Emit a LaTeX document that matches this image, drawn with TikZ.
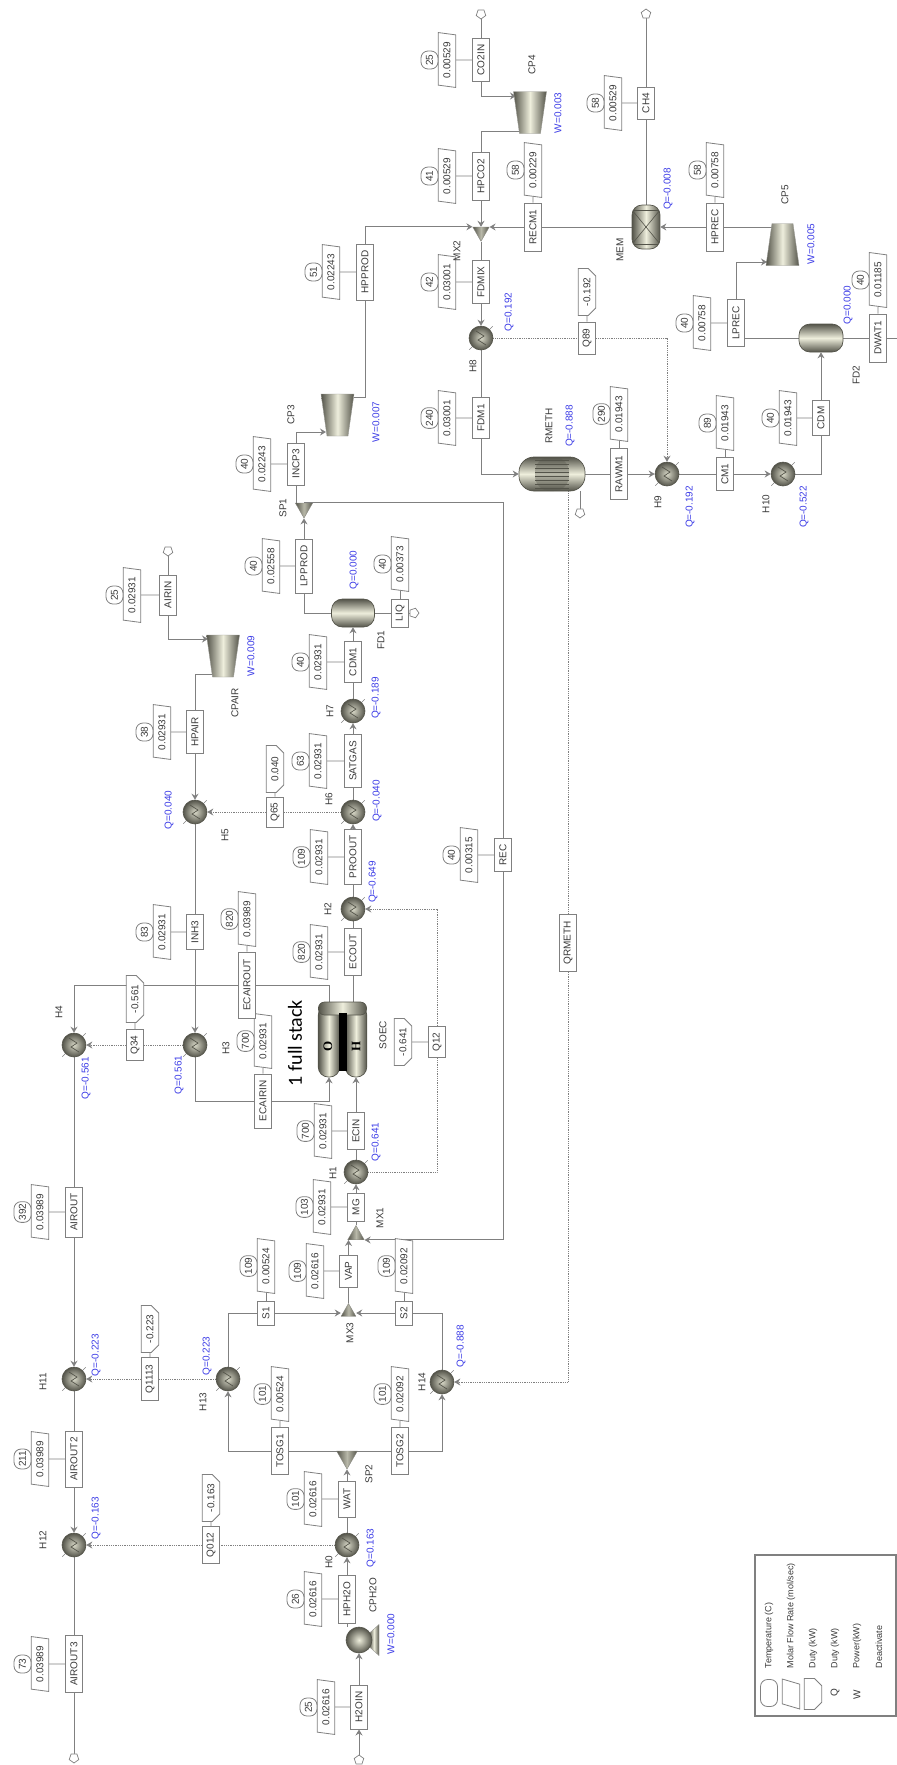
\documentclass[tikz,border=0pt]{standalone}
\usepackage{fontspec}
\setmainfont{Liberation Sans}
\newfontfamily\stackfont{Carlito}
\newfontfamily\bodyfont{Liberation Serif}
\usetikzlibrary{arrows.meta,shapes.geometric,shapes.misc,backgrounds}
\definecolor{eqdark}{HTML}{54544A}
\definecolor{eqlight}{HTML}{EEEEDC}
\definecolor{linegray}{HTML}{808080}
\definecolor{textgray}{HTML}{3A3A3A}
\definecolor{dutyblue}{HTML}{3C3CE6}
\begin{document}
\begin{tikzpicture}[
    x=1pt, y=-1pt,
    >={Stealth[inset=2pt,length=6pt,width=7pt]},
    every node/.style={text=textgray, font=\fontsize{10}{12}\selectfont},
    stbox/.style={rectangle, rotate=90, draw=linegray, line width=0.9pt, fill=white, minimum height=17.5pt, inner sep=0pt},
    flowtag/.style={trapezium, trapezium left angle=78, trapezium right angle=102, trapezium stretches=true, rotate=90, draw=linegray, line width=0.8pt, fill=white, minimum width=55pt, minimum height=17.5pt, inner sep=0.5pt},
    tempoval/.style={rectangle, rounded corners=7pt, rotate=90, draw=linegray, line width=0.8pt, fill=white, minimum width=18pt, minimum height=17pt, inner xsep=2pt, inner ysep=0pt},
    dutytag/.style={chamfered rectangle, chamfered rectangle corners={south east,south west}, chamfered rectangle xsep=4pt, rotate=90, draw=linegray, line width=0.8pt, fill=white, minimum width=47pt, minimum height=17.5pt, inner sep=0.5pt},
    heater/.style={circle, draw=eqdark, line width=0.6pt, minimum size=24pt, inner sep=0pt, inner color=eqlight!85!eqdark, outer color=eqdark,
      path picture={\draw[eqdark, line width=0.7pt] ([shift={(-5,-7)}]path picture bounding box.center) -- ([shift={(3,-2)}]path picture bounding box.center) -- ([shift={(-3,2)}]path picture bounding box.center) -- ([shift={(5,7)}]path picture bounding box.center);}},
    tickline/.style={draw=linegray, line width=0.5pt},
    vessel/.style={rectangle, draw=eqdark, line width=0.7pt, left color=eqdark, right color=eqdark, middle color=eqlight, inner sep=0pt},
    hvessel/.style={rectangle, draw=eqdark, line width=0.7pt, top color=eqdark, bottom color=eqdark, middle color=eqlight, inner sep=0pt},
    comp/.style={trapezium, trapezium left angle=74, trapezium right angle=74, trapezium stretches=true, draw=eqdark!60, line width=0.4pt, left color=eqdark, right color=eqdark, middle color=eqlight, minimum width=33pt, minimum height=42pt, inner sep=0.5pt},
    mixer/.style={regular polygon, regular polygon sides=3, draw=eqdark!70, line width=0.4pt, left color=eqdark, right color=eqdark, middle color=eqlight!65!eqdark, inner sep=0pt},
    splitter/.style={mixer, shape border rotate=180},
    strmend/.style={regular polygon, regular polygon sides=5, draw=linegray, line width=0.7pt, fill=white, minimum size=10pt, inner sep=0pt},
    unitlab/.style={rotate=90},
    qlab/.style={rotate=90, text=dutyblue},
    legendtext/.style={rotate=90, anchor=west, font=\fontsize{9}{11}\selectfont},
    strm/.style={draw=linegray, line width=1pt},
    tagline/.style={draw=linegray, line width=0.8pt},
    heatline/.style={draw=linegray, line width=0.8pt, densely dotted}
  ]
  \useasboundingbox (0,0) rectangle (897,1765);

  \foreach \sn/\bx/\by/\bh/\fx/\fy/\fv/\tv in {
      AIROUT3/74/1664/57/40/1664/0.03989/73, AIROUT2/74/1459/56/40/1459/0.03989/211,
      AIROUT/74/1212/50/40/1212/0.03989/392, S1/266/1313/24/266/1266/0.00524/109,
      VAP/348.5/1271/32/315/1271/0.02616/109, S2/404/1313/24/404/1266/0.02092/109,
      TOSG1/280/1451/47/280/1394/0.00524/101, TOSG2/400/1451/47/400/1394/0.02092/101,
      WAT/347/1499/36/313/1499/0.02616/101, HPH2O/347/1599/48/313/1599/0.02616/26,
      H2OIN/359/1707/44/326/1707/0.02616/25, MG/356/1207/28/322/1207/0.02931/103,
      ECIN/356/1131/37/323/1131/0.02931/700, ECAIRIN/263/1101/54/263/1041/0.02931/700,
      ECAIROUT/247/985/66/247/919/0.03989/820, ECOUT/353/952/47/319/952/0.02931/820,
      PROOUT/353/857/55/319/857/0.02931/109, SATGAS/353/761/53/318/761/0.02931/63,
      CDM1/353/662/41/318/662/0.02931/40, LIQ/400/613/28/400/564/0.00373/40,
      LPPROD/304/566/54/271/566/0.02558/40, INCP3/296/464/42/262/464/0.02243/40,
      HPPROD/365/272/56/331/272/0.02243/51, HPAIR/195/732/43/162/732/0.02931/38,
      INH3/195/932/35/162/932/0.02931/83, AIRIN/168/595/40/132/595/0.02931/25,
      REC/503/855/33/469/855/0.00315/40, CO2IN/481/60/43/447/60/0.00529/25,
      HPCO2/481/176/48/447/176/0.00529/41, FDMIX/481/282/43/447/282/0.03001/42,
      FDM1/481/418/41/447/418/0.03001/240, RAWM1/619/474/51/619/414/0.01943/290,
      CM1/725/474/33/725/423/0.01943/89, CDM/821/418/35/788/418/0.01943/40,
      RECM1/533/227/48/533/170/0.00229/58, HPREC/715/227/48/715/170/0.00758/58,
      CH4/646/103/32/613/103/0.00529/58, LPREC/736/323/47/702/323/0.00758/40,
      DWAT1/878/338/48/878/280/0.01185/40} {
    \node[stbox, minimum width=\bh] (\sn) at (\bx,\by) {\sn};
    \node[flowtag] (f\sn) at (\fx,\fy) {\fv};
    \node[tempoval] (t\sn) at ([xshift=-17.5pt]f\sn) {\tv};
    \begin{pgfonlayer}{background}
      \draw[tagline] (f\sn) -- (\sn);
    \end{pgfonlayer}
  }

  \foreach \dn/\bx/\by/\bh/\dx/\dy/\dv in {
      Q012/211/1545/37/211/1498/-0.163, Q1113/150/1379/43/150/1329/-0.223,
      Q34/135/1045/31/135/999/-0.561, Q65/275/812/30/275/769/0.040,
      Q12/437/1042/31/403/1042/-0.641, Q89/587/338/32/587/292/-0.192} {
    \node[stbox, minimum width=\bh] (\dn) at (\bx,\by) {\dn};
    \node[dutytag] (d\dn) at (\dx,\dy) {\dv};
    \begin{pgfonlayer}{background}
      \draw[tagline] (d\dn) -- (\dn);
    \end{pgfonlayer}
  }
  \node[stbox, minimum width=57pt] (QRMETH) at (568,943) {QRMETH};

  \foreach \hn/\hx/\hy/\lx/\ly/\qv/\qx/\qy in {
      H12/74/1545/43/1540/-0.163/96/1518, H11/74/1379/43/1382/-0.223/96/1355,
      H13/228/1379/203/1402/0.223/207/1356, H14/442/1382/422/1382/-0.888/461/1346,
      H0/347/1545/329/1562/0.163/371/1548, H4/74/1045/59/1012/-0.561/86/1078,
      H3/195/1045/226/1048/0.561/179/1075, H5/195/812/225/835/0.040/169/810,
      H6/353/812/329/799/-0.040/377/801, H2/353/909/328/909/-0.649/373/882,
      H1/356/1172/333/1173/0.641/376/1142, H7/353/711/330/711/-0.189/376/698,
      H8/481/338/473/366/0.192/509/312, H9/667/474/658/502/-0.192/690/507,
      H10/783/474/766/504/-0.522/804/507} {
    \node[heater] (\hn) at (\hx,\hy) {};
    \draw[tickline] (\hn.45) -- ++(3,-3);
    \draw[tickline] (\hn.225) -- ++(-3,3);
    \node[unitlab] (l\hn) at (\lx,\ly) {\hn};
    \node[qlab] (q\hn) at (\qx,\qy) {Q=\qv};
  }

  \node[mixer, minimum size=19pt] (MX1) at (356,1235) {};
  \node[mixer, minimum size=17pt] (MX3) at (348.5,1312) {};
  \node[splitter, minimum size=24pt] (SP2) at (347,1457) {};
  \node[splitter, minimum size=20pt] (SP1) at (304,508) {};
  \node[splitter, minimum size=19pt] (MX2) at (481,231.75) {};
  \node[unitlab] (lMX1) at (380,1218) {MX1};
  \node[unitlab] (lMX3) at (350,1333) {MX3};
  \node[unitlab] (lSP2) at (369,1474) {SP2};
  \node[unitlab] (lSP1) at (283,508) {SP1};
  \node[unitlab] (lMX2) at (457,251) {MX2};

  \node[comp, rotate=180] (CP3) at (337.5,415) {};
  \node[comp, rotate=180] (CPAIR) at (223,656) {};
  \node[comp, rotate=180] (CP4) at (530,112.5) {};
  \node[comp] (CP5) at (782.5,244.5) {};
  \coordinate (CP3in) at (326,432);
  \coordinate (CP3out) at (354,397);
  \coordinate (CPAIRin) at (208,639);
  \coordinate (CPAIRout) at (213,674);
  \coordinate (CP4in) at (516,96);
  \coordinate (CP4out) at (522,131);
  \coordinate (CP5in) at (767,262);
  \coordinate (CP5out) at (774,227);
  \coordinate (DWATend) at (897,338);
  \node[unitlab] (lCP3) at (291,415) {CP3};
  \node[qlab] (qCP3) at (376,422) {W=0.007};
  \node[unitlab] (lCPAIR) at (235,703) {CPAIR};
  \node[qlab] (qCPAIR) at (251,656) {W=0.009};
  \node[unitlab] (lCP4) at (532,65) {CP4};
  \node[qlab] (qCP4) at (558,113) {W=0.003};
  \node[unitlab] (lCP5) at (785,195) {CP5};
  \node[qlab] (qCP5) at (811,244) {W=0.005};

  \node[comp, trapezium left angle=55, trapezium right angle=55, minimum width=31pt, minimum height=10pt, rotate=90] (CPH2Ocone) at (374,1640) {};
  \node[circle, draw=eqdark, line width=0.6pt, minimum size=26pt, inner sep=0pt, inner color=eqlight, outer color=eqdark] (CPH2O) at (359,1640) {};
  \node[unitlab] (lCPH2O) at (373,1595) {CPH2O};
  \node[qlab] (qCPH2O) at (391,1634) {W=0.000};

  \node[hvessel, rounded corners=11pt, minimum width=43pt, minimum height=28pt] (FD1) at (353,613) {};
  \node[hvessel, rounded corners=11pt, minimum width=44pt, minimum height=28pt] (FD2) at (821,338) {};
  \node[unitlab] (lFD1) at (381,640) {FD1};
  \node[qlab] (qFD1) at (354,570) {Q=0.000};
  \node[unitlab] (lFD2) at (856,375) {FD2};
  \node[qlab] (qFD2) at (848,305) {Q=0.000};

  \node[vessel, rounded corners=10pt, minimum width=28pt, minimum height=44pt,
    path picture={
      \draw[eqdark, line width=0.6pt] ([shift={(-14,-17)}]path picture bounding box.center) -- ([shift={(14,-17)}]path picture bounding box.center);
      \draw[eqdark, line width=0.6pt] ([shift={(-14,17)}]path picture bounding box.center) -- ([shift={(14,17)}]path picture bounding box.center);
      \draw[eqdark, line width=0.6pt] ([shift={(-14,-17)}]path picture bounding box.center) -- ([shift={(14,17)}]path picture bounding box.center);
      \draw[eqdark, line width=0.6pt] ([shift={(14,-17)}]path picture bounding box.center) -- ([shift={(-14,17)}]path picture bounding box.center);
    }] (MEM) at (646,227) {};
  \node[unitlab] (lMEM) at (620,250) {MEM};
  \node[qlab] (qMEM) at (668,189) {Q=-0.008};

  \node[hvessel, rounded corners=15pt, minimum width=66pt, minimum height=34pt,
    path picture={
      \fill[eqdark, opacity=0.35] ([shift={(-17,-17)}]path picture bounding box.center) rectangle ([shift={(17,17)}]path picture bounding box.center);
      \foreach \ly in {-14,-10,-6,-2,2,6,10,14} {
        \draw[eqdark, line width=0.4pt] ([shift={(-17,\ly)}]path picture bounding box.center) -- ([shift={(17,\ly)}]path picture bounding box.center);
      }
    }] (RMETH) at (552,474) {};
  \node[unitlab] (lRMETH) at (549,426) {RMETH};
  \node[qlab] (qRMETH) at (570,426) {Q=-0.888};

  \node[vessel, rounded corners=10pt, minimum width=21.5pt, minimum height=72pt] (SOECO) at (329,1041) {};
  \node[vessel, rounded corners=10pt, minimum width=21.5pt, minimum height=72pt] (SOECH) at (356,1041) {};
  \node[vessel, rounded corners=6pt, minimum width=48pt, minimum height=13pt] (SOEC) at (342.5,1008.5) {};
  \node[rectangle, fill=black, minimum width=8pt, minimum height=58pt, inner sep=0pt] (SOECgap) at (342.5,1042) {};
  \node[rotate=90, font=\bodyfont\bfseries\fontsize{13}{14}\selectfont, text=black] (labO) at (328,1046) {O};
  \node[rotate=90, font=\bodyfont\bfseries\fontsize{13}{14}\selectfont, text=black] (labH) at (356,1046) {H};
  \node[unitlab] (lSOEC) at (383,1035) {SOEC};
  \node[rotate=90, font=\stackfont\fontsize{20}{22}\selectfont, text=black] (stacktext) at (295,1043) {1 full stack};

  \node[strmend, rotate=180] (endAIROUT) at (74,1758) {};
  \node[strmend] (endH2OIN) at (359,1760) {};
  \node[strmend, rotate=180] (endAIRIN) at (168,551) {};
  \node[strmend, rotate=-90] (endLIQ) at (414,613) {};
  \node[strmend, rotate=180] (endCO2IN) at (481,14) {};
  \node[strmend] (endCH4) at (646,14) {};
  \node[strmend, rotate=180] (endRMETH) at (580,513) {};

  \begin{scope}[on background layer]
    \draw[strm,->] (endH2OIN) -- (H2OIN);
    \draw[strm,->] (H2OIN) -- (CPH2O);
    \draw[strm] (HPH2O |- CPH2O.north) -- (HPH2O);
    \draw[strm,->] (HPH2O) -- (H0);
    \draw[strm] (H0) -- (WAT);
    \draw[strm,->] (WAT) -- (SP2);
    \draw[strm] (TOSG1 -| SP2) -- (TOSG1);
    \draw[strm] (TOSG2 -| SP2) -- (TOSG2);
    \draw[strm,->] (TOSG1) -| (H13);
    \draw[strm,->] (TOSG2) -| (H14);
    \draw[strm] (H13) |- (S1);
    \draw[strm] (H14) |- (S2);
    \draw[strm,->] (S1) -- (S1 -| MX3.corner 2);
    \draw[strm,->] (S2) -- (S2 -| MX3.corner 3);
    \draw[strm] (MX3) -- (VAP);
    \draw[strm,->] (VAP) -- (VAP |- MX1.south);
    \draw[strm] (MX1) -- (MG);
    \draw[strm,->] (MG) -- (H1);
    \draw[strm] (H1) -- (ECIN);
    \draw[strm,->] (ECIN) -- (SOECH);
    \draw[strm] (ECOUT |- SOEC.north) -- (ECOUT);
    \draw[strm] (ECOUT) -- (H2);
    \draw[strm] (H2) -- (PROOUT);
    \draw[strm,->] (PROOUT) -- (H6);
    \draw[strm] (H6) -- (SATGAS);
    \draw[strm,->] (SATGAS) -- (H7);
    \draw[strm] (H7) -- (CDM1);
    \draw[strm,->] (CDM1) -- (FD1);
    \draw[strm] (FD1) -- (LIQ);
    \draw[strm] (LIQ) -- (endLIQ);
    \draw[strm] (FD1) -| (LPPROD);
    \draw[strm,->] (LPPROD) -- (SP1);
    \draw[strm] (INCP3 |- SP1.north) -- (INCP3);
    \draw[strm,->] (INCP3) |- (CP3in);
    \draw[strm] (CP3out) -| (HPPROD);
    \draw[strm,->] (HPPROD) |- (MX2.corner 3);
    \draw[strm] (SP1.north) -| (REC);
    \draw[strm,->] (REC) |- (MX1.corner 3);
    \draw[strm] (endAIRIN) -- (AIRIN);
    \draw[strm,->] (AIRIN) |- (CPAIRin);
    \draw[strm] (CPAIRout) -| (HPAIR);
    \draw[strm,->] (HPAIR) -- (H5);
    \draw[strm] (H5) -- (INH3);
    \draw[strm,->] (INH3) -- (H3);
    \draw[strm] (H3) |- (ECAIRIN);
    \draw[strm,->] (ECAIRIN) -| (SOECO);
    \draw[strm] (SOEC.north -| SOECO) |- (ECAIROUT);
    \draw[strm,->] (ECAIROUT) -| (H4);
    \draw[strm] (H4) -- (AIROUT);
    \draw[strm,->] (AIROUT) -- (H11);
    \draw[strm] (H11) -- (AIROUT2);
    \draw[strm,->] (AIROUT2) -- (H12);
    \draw[strm] (H12) -- (AIROUT3);
    \draw[strm] (AIROUT3) -- (endAIROUT);
    \draw[strm] (endCO2IN) -- (CO2IN);
    \draw[strm,->] (CO2IN) |- (CP4in);
    \draw[strm] (CP4out) -| (HPCO2);
    \draw[strm,->] (HPCO2) -- (MX2.north);
    \draw[strm] (MX2) -- (FDMIX);
    \draw[strm,->] (FDMIX) -- (H8);
    \draw[strm] (H8) -- (FDM1);
    \draw[strm,->] (FDM1) |- (RMETH);
    \draw[strm] (RMETH) -- (RAWM1);
    \draw[strm] (endRMETH |- RMETH.south) -- (endRMETH);
    \draw[strm,->] (RAWM1) -- (H9);
    \draw[strm] (H9) -- (CM1);
    \draw[strm,->] (CM1) -- (H10);
    \draw[strm] (H10) -| (CDM);
    \draw[strm,->] (CDM) -- (FD2);
    \draw[strm] (FD2) -- (FD2 -| LPREC);
    \draw[strm,->] (LPREC) |- (CP5in);
    \draw[strm] (CP5out) -- (HPREC);
    \draw[strm,->] (HPREC) -- (MEM);
    \draw[strm] (MEM) -- (RECM1);
    \draw[strm,->] (RECM1) -- (RECM1 -| MX2.corner 2);
    \draw[strm] (MEM) -- (CH4);
    \draw[strm] (CH4) -- (endCH4);
    \draw[strm] (FD2) -- (DWAT1);
    \draw[strm] (DWAT1) -- (DWATend);
    \draw[heatline] (H0) -- (Q012);
    \draw[heatline,->] (Q012) -- (H12);
    \draw[heatline] (H13) -- (Q1113);
    \draw[heatline,->] (Q1113) -- (H11);
    \draw[heatline] (H3) -- (Q34);
    \draw[heatline,->] (Q34) -- (H4);
    \draw[heatline] (H6) -- (Q65);
    \draw[heatline,->] (Q65) -- (H5);
    \draw[heatline] (H1) -| (Q12);
    \draw[heatline,->] (Q12) |- (H2);
    \draw[heatline] (H8) -- (Q89);
    \draw[heatline,->] (Q89) -| (H9);
    \draw[heatline] (QRMETH |- RMETH.south) -- (QRMETH);
    \draw[heatline,->] (QRMETH) |- (H14);
  \end{scope}

  \node[rectangle, draw=linegray, line width=1.1pt, minimum width=141pt, minimum height=161pt, inner sep=0pt] (legendbox) at (825.5,1635.5) {};
  \node[tempoval, minimum width=27pt] (legoval) at (769,1693) {};
  \node[flowtag, minimum width=30pt] (legflow) at (791,1694) {\phantom{0}};
  \node[dutytag, minimum width=31pt] (legduty) at (813,1694) {\phantom{0}};
  \node[unitlab] (legQ) at (835,1693) {Q};
  \node[unitlab] (legW) at (857,1695) {W};
  \node[legendtext] (txtT) at (769,1672) {Temperature (C)};
  \node[legendtext] (txtF) at (791,1672) {Molar Flow Rate (mol/sec)};
  \node[legendtext] (txtD) at (813,1672) {Duty (kW)};
  \node[legendtext] (txtQ) at (835,1672) {Duty (kW)};
  \node[legendtext] (txtW) at (857,1672) {Power(kW)};
  \node[legendtext] (txtX) at (879,1672) {Deactivate};
\end{tikzpicture}
\end{document}
